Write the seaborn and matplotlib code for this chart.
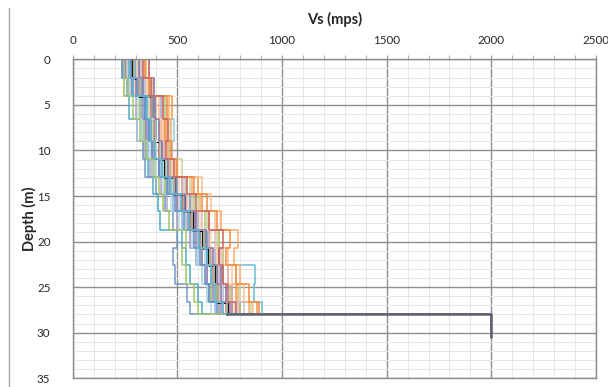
import pandas as pd
import matplotlib
matplotlib.use("Agg")
import matplotlib.pyplot as plt
from matplotlib.ticker import MultipleLocator
from matplotlib.lines import Line2D
import seaborn as sns

# Layer geometry (m)
layer_tops = [0, 2, 4, 6.5, 9, 10.9, 12.9, 14.8, 16.7, 18.7, 20.7, 22.6, 24.7, 26.6]
profile_bottom = 28.0

# Half-space below the profiles
halfspace_vs = 2000
halfspace_bottom = 30.5

# Median Vs per layer (mps)
median_vs = [288, 318, 379, 387, 416, 443, 483, 531, 571, 624, 651, 675, 691, 736]

# Randomised Vs profiles, one row per realisation (mps per layer)
profiles_vs = [
    [234, 290, 350, 370, 395, 420, 470, 520, 560, 600, 640, 660, 700, 740],
    [363, 330, 400, 420, 440, 470, 520, 560, 600, 650, 700, 720, 760, 800],
    [270, 246, 320, 340, 380, 400, 440, 500, 540, 610, 620, 690, 660, 700],
    [300, 390, 420, 400, 410, 450, 470, 540, 590, 640, 680, 710, 730, 760],
    [250, 280, 270, 330, 350, 360, 384, 406, 419, 520, 540, 560, 600, 620],
    [280, 320, 475, 450, 430, 480, 600, 620, 650, 700, 720, 740, 780, 880],
    [310, 340, 380, 307, 360, 380, 450, 480, 520, 560, 590, 620, 640, 680],
    [260, 300, 360, 390, 475, 460, 500, 540, 580, 630, 660, 700, 690, 760],
    [340, 350, 430, 460, 450, 523, 560, 600, 640, 690, 720, 780, 800, 850],
    [245, 270, 300, 350, 340, 370, 420, 450, 500, 560, 600, 640, 650, 700],
    [290, 310, 350, 483, 420, 430, 480, 530, 570, 620, 650, 680, 720, 780],
    [330, 360, 410, 430, 400, 500, 619, 659, 680, 700, 740, 760, 820, 860],
    [240, 260, 330, 360, 336, 347, 400, 440, 480, 496, 480, 491, 547, 558],
    [285, 300, 370, 380, 410, 440, 490, 520, 560, 610, 650, 670, 690, 730],
    [320, 370, 440, 410, 460, 470, 540, 580, 630, 700, 690, 720, 750, 800],
    [255, 285, 340, 350, 390, 410, 460, 500, 550, 590, 620, 640, 670, 710],
    [300, 330, 390, 400, 420, 450, 500, 560, 600, 640, 680, 870, 867, 902],
    [350, 380, 460, 470, 455, 490, 570, 610, 710, 790, 771, 800, 790, 840],
    [275, 295, 360, 370, 400, 420, 470, 510, 540, 600, 630, 660, 680, 720],
    [260, 310, 380, 395, 430, 460, 520, 570, 620, 680, 710, 740, 760, 790],
    [295, 320, 365, 385, 415, 445, 485, 530, 570, 625, 655, 675, 690, 736],
    [325, 345, 420, 440, 440, 480, 530, 545, 600, 650, 680, 700, 720, 820],
    [265, 275, 310, 330, 370, 400, 430, 470, 510, 570, 600, 620, 640, 660],
    [305, 355, 400, 420, 445, 475, 510, 550, 610, 660, 690, 760, 700, 770],
    [280, 305, 345, 365, 380, 410, 450, 490, 530, 580, 610, 630, 650, 690],
    [345, 365, 450, 440, 470, 500, 580, 640, 690, 750, 730, 780, 840, 890],
    [245, 265, 290, 320, 350, 390, 410, 430, 460, 540, 520, 540, 580, 600],
    [315, 335, 395, 410, 425, 455, 495, 535, 585, 635, 670, 690, 710, 750],
    [270, 290, 355, 375, 395, 425, 465, 515, 555, 605, 640, 660, 680, 720],
    [335, 375, 430, 455, 445, 485, 545, 590, 650, 720, 700, 720, 740, 780],
]

line_colors = [
    "#4F81BD", "#C0504D", "#9BBB59", "#8064A2", "#4BACC6", "#F79646",
    "#95B3D7", "#D99694", "#C3D69B", "#B3A2C7", "#93CDDD", "#FAC090",
    "#729ACA", "#CD7371", "#AFC97A", "#9983B5", "#6FBDD1", "#F9AB6B",
    "#B9CDE5", "#E6B9B8", "#D7E4BD", "#CCC1DA", "#B7DEE8", "#FCD5B5",
    "#5B8CC8", "#F28A3C", "#A6C46A", "#8E74AD", "#5AB5CD", "#C86461",
]


def step_points(vs):
    """Turn layer velocities into the corner points of a step profile."""
    bottoms = layer_tops[1:] + [profile_bottom]
    xs, ys = [], []
    for v, top, bot in zip(vs, layer_tops, bottoms):
        xs += [v, v]
        ys += [top, bot]
    return xs, ys


def profiles_frame(first, last):
    rows = []
    for i in range(first, last):
        xs, ys = step_points(profiles_vs[i])
        xs += [halfspace_vs, halfspace_vs]
        ys += [profile_bottom, halfspace_bottom]
        for x, y in zip(xs, ys):
            rows.append({"profile": f"P{i + 1:02d}", "vs": x, "depth": y})
    return pd.DataFrame(rows)


n_half = len(profiles_vs) // 2
lower_df = profiles_frame(0, n_half)
upper_df = profiles_frame(n_half, len(profiles_vs))

mx, my = step_points(median_vs)
median_df = pd.DataFrame({"vs": mx, "depth": my})
half_df = pd.DataFrame({
    "vs": [median_vs[-1], halfspace_vs, halfspace_vs],
    "depth": [profile_bottom, profile_bottom, halfspace_bottom],
})

sns.set_style("white")
plt.rcParams["font.family"] = ["Lato", "DejaVu Sans"]

fig = plt.figure(figsize=(6.08, 3.87), dpi=100)
ax = fig.add_axes([0.1196, 0.0225, 0.8607, 0.8243])

# realisations in two passes with the median threaded between them
sns.lineplot(data=lower_df, x="vs", y="depth", hue="profile",
             palette=line_colors[:n_half], sort=False, estimator=None,
             legend=False, linewidth=1.1, ax=ax)
sns.lineplot(data=median_df, x="vs", y="depth", sort=False, estimator=None,
             color="black", linewidth=2.0, ax=ax)
sns.lineplot(data=upper_df, x="vs", y="depth", hue="profile",
             palette=line_colors[n_half:], sort=False, estimator=None,
             legend=False, linewidth=1.1, ax=ax)
sns.lineplot(data=half_df, x="vs", y="depth", sort=False, estimator=None,
             color="#5a6272", linewidth=1.8, ax=ax)

ax.set_xlim(0, 2500)
ax.set_ylim(35, 0)
ax.xaxis.set_major_locator(MultipleLocator(500))
ax.xaxis.set_minor_locator(MultipleLocator(100))
ax.yaxis.set_major_locator(MultipleLocator(5))
ax.yaxis.set_minor_locator(MultipleLocator(1))

ax.grid(which="major", color="#8f8f8f", linewidth=1.0, zorder=0)
ax.grid(which="minor", color="#e6e6e6", linewidth=0.7, zorder=0)
ax.set_axisbelow(True)

ax.xaxis.tick_top()
ax.xaxis.set_label_position("top")
ax.tick_params(which="both", direction="out", color="#9a9a9a",
               labelcolor="#262626", labelsize=8.4)
ax.tick_params(axis="x", which="major", length=3, pad=6.5)
ax.tick_params(axis="y", which="major", length=3, pad=13)
ax.tick_params(which="minor", length=3)

for s in ax.spines.values():
    s.set_color("#8c8c8c")
    s.set_linewidth(1.0)

ax.set_xlabel("Vs (mps)", fontsize=10.5, fontweight="bold", labelpad=8)
ax.set_ylabel("Depth (m)", fontsize=10.5, fontweight="bold")
ax.yaxis.set_label_coords(-0.068, 0.5)

# chart frame edge on the left side
fig.add_artist(Line2D([8.5 / 608, 8.5 / 608], [0, 1 - 8 / 387],
                      transform=fig.transFigure, color="#a6a6a6", linewidth=1.0))

fig.savefig("out.png", dpi=100)
